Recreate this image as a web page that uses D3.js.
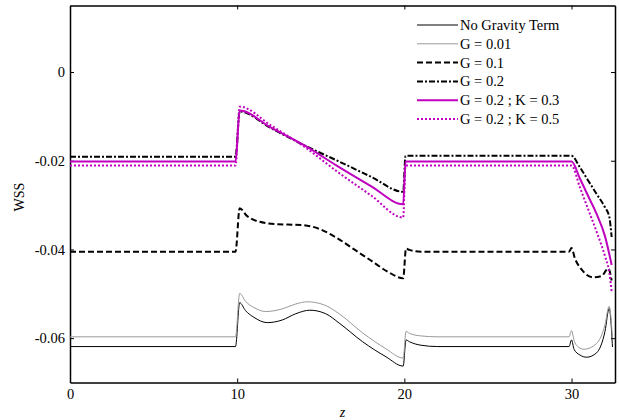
<!DOCTYPE html>
<html lang="en">
<head>
<meta charset="utf-8">
<title>WSS</title>
<script src="https://d3js.org/d3.v7.min.js"></script>
<style>
body { margin: 0; background: #fff; }
svg text { font-family: "Liberation Serif", serif; fill: #000; }
.axis path, .axis line { stroke: #000; }
</style>
</head>
<body>
<script>
// legend names
var names = ["No Gravity Term", "G = 0.01", "G = 0.1", "G = 0.2", "G = 0.2 ; K = 0.3", "G = 0.2 ; K = 0.5"];

// No gravity term
var z0 = [0, 9.9, 10.15, 10.5, 11, 11.8, 12.7, 13.5, 14.35, 15.3, 16.1, 17.5, 18.9, 19.93, 20.1, 20.3, 21, 22, 29.85, 30.0, 30.15, 30.5, 30.9, 31.5, 32, 32.25, 32.45];
var v0 = [-0.0619, -0.0619, -0.0520, -0.0538, -0.0553, -0.0565, -0.0559, -0.0545, -0.0537, -0.0545, -0.0566, -0.0608, -0.0642, -0.0663, -0.0604, -0.0608, -0.0616, -0.0619, -0.0619, -0.0604, -0.0625, -0.0638, -0.0643, -0.0633, -0.0585, -0.0533, -0.0620];

// G = 0.01
var z1 = [0, 9.9, 10.15, 10.5, 11, 11.7, 12.7, 13.5, 14.2, 15.2, 16.1, 17.5, 18.9, 19.93, 20.1, 20.3, 21, 22, 29.85, 30.0, 30.15, 30.4, 30.75, 31.5, 32, 32.25, 32.45];
var v1 = [-0.0597, -0.0597, -0.0499, -0.0517, -0.0531, -0.0540, -0.0534, -0.0523, -0.0518, -0.0525, -0.0545, -0.0588, -0.0624, -0.0645, -0.0585, -0.0589, -0.0595, -0.0597, -0.0597, -0.0583, -0.0605, -0.0620, -0.0625, -0.0612, -0.0570, -0.0528, -0.0600];

// G = 0.1
var z2 = [0, 9.9, 10.15, 10.6, 11.8, 13, 13.9, 15, 16, 17, 18, 19, 19.93, 20.1, 20.3, 21, 29.85, 30.0, 30.2, 30.6, 31.3, 31.8, 32.2, 32.4];
var v2 = [-0.0405, -0.0405, -0.0307, -0.0325, -0.0341, -0.0344, -0.0345, -0.0355, -0.0375, -0.0400, -0.0425, -0.0450, -0.0465, -0.0398, -0.0401, -0.0405, -0.0405, -0.0397, -0.0420, -0.0445, -0.0463, -0.0460, -0.0443, -0.0470];

// G = 0.2
var z3 = [0, 9.9, 10.15, 12, 14, 16, 18, 19.93, 20.07, 20.2, 30.0, 30.5, 31, 31.5, 32, 32.25, 32.4];
var v3 = [-0.0191, -0.0191, -0.0089, -0.0126, -0.0165, -0.0200, -0.0236, -0.0270, -0.0189, -0.0189, -0.0189, -0.0215, -0.0245, -0.0275, -0.0305, -0.0325, -0.0372];

// G = 0.2 ; K = 0.3
var z4 = [0, 9.9, 10.15, 12, 14, 16, 18, 19.93, 20.07, 20.2, 30.0, 30.5, 31, 31.5, 32, 32.25, 32.4];
var v4 = [-0.0202, -0.0202, -0.0087, -0.0125, -0.0165, -0.0212, -0.0257, -0.0298, -0.0202, -0.0202, -0.0202, -0.0240, -0.0280, -0.0320, -0.0370, -0.0409, -0.0435];

// G = 0.2 ; K = 0.5
var z5 = [0, 9.9, 10.15, 12, 14, 16, 18, 19.93, 20.07, 20.2, 30.0, 30.5, 31, 31.5, 32, 32.25, 32.4];
var v5 = [-0.0211, -0.0211, -0.0078, -0.0120, -0.0168, -0.0225, -0.0278, -0.0328, -0.0211, -0.0211, -0.0211, -0.0260, -0.0310, -0.0360, -0.0415, -0.0450, -0.0495];

var xTicks = [0, 10, 20, 30];
var yTicks = [-0.06, -0.04, -0.02, 0];

var zs = [z0, z1, z2, z3, z4, z5];
var vs = [v0, v1, v2, v3, v4, v5];
var styles = [
  {color: "#000", width: 1, dash: null},
  {color: "#999", width: 1, dash: null},
  {color: "#000", width: 2, dash: "6,3"},
  {color: "#000", width: 2, dash: "6,2,2,2"},
  {color: "#bf00bf", width: 2, dash: null},
  {color: "#bf00bf", width: 2, dash: "2,2"}
];

var W = 619, H = 420;
var margin = {left: 70, right: 4, top: 5.5, bottom: 37.5};
var w = W - margin.left - margin.right,
    h = H - margin.top - margin.bottom;

var svg = d3.select("body").append("svg")
  .attr("width", W)
  .attr("height", H);

var g = svg.append("g")
  .attr("transform", "translate(" + margin.left + "," + margin.top + ")");

var x = d3.scaleLinear().domain([0, 32.6]).range([0, w]);
var y = d3.scaleLinear().domain([-0.07, 0.015]).range([h, 0]);

var fmt = function(d) { return d === 0 ? "0" : d.toFixed(2); };

g.append("g").attr("class", "axis")
  .attr("transform", "translate(0," + h + ")")
  .call(d3.axisBottom(x).tickValues(xTicks).tickSizeInner(-4).tickSizeOuter(0).tickPadding(6));
g.append("g").attr("class", "axis")
  .call(d3.axisTop(x).tickValues(xTicks).tickSizeInner(-4).tickSizeOuter(0).tickFormat(""));
g.append("g").attr("class", "axis")
  .call(d3.axisLeft(y).tickValues(yTicks).tickSizeInner(-4).tickSizeOuter(0).tickPadding(5).tickFormat(fmt));
g.append("g").attr("class", "axis")
  .attr("transform", "translate(" + w + ",0)")
  .call(d3.axisRight(y).tickValues(yTicks).tickSizeInner(-4).tickSizeOuter(0).tickFormat(""));

g.selectAll(".axis").attr("font-family", "Liberation Serif").attr("font-size", 14.5);
g.selectAll(".axis path").attr("stroke-width", 1.5);

var line = d3.line()
  .x(function(d) { return x(d[0]); })
  .y(function(d) { return y(d[1]); })
  .curve(d3.curveMonotoneX);

var series = zs.map(function(zz, i) {
  return zz.map(function(zv, j) { return [zv, vs[i][j]]; });
});

g.selectAll(".series")
  .data(series)
  .enter().append("path")
  .attr("class", "series")
  .attr("fill", "none")
  .attr("d", line)
  .attr("stroke", function(d, i) { return styles[i].color; })
  .attr("stroke-width", function(d, i) { return styles[i].width; })
  .attr("stroke-dasharray", function(d, i) { return styles[i].dash; });

// legend
var legend = svg.append("g").selectAll("g")
  .data(names)
  .enter().append("g")
  .attr("transform", function(d, i) { return "translate(417," + (25 + i * 18.8) + ")"; });

legend.append("line")
  .attr("x1", 0).attr("x2", 41)
  .attr("stroke", function(d, i) { return styles[i].color; })
  .attr("stroke-width", function(d, i) { return styles[i].width; })
  .attr("stroke-dasharray", function(d, i) { return styles[i].dash; });

legend.append("text")
  .attr("x", 43)
  .attr("dy", "0.35em")
  .attr("font-family", "Liberation Serif")
  .attr("font-size", 14.5)
  .text(function(d) { return d; });

svg.append("text")
  .attr("x", margin.left + x(16.3))
  .attr("y", 417)
  .attr("text-anchor", "middle")
  .attr("font-family", "Liberation Serif")
  .attr("font-size", 14)
  .attr("font-style", "italic")
  .text("z");

svg.append("text")
  .attr("transform", "translate(24,197) rotate(-90)")
  .attr("text-anchor", "middle")
  .attr("font-family", "Liberation Serif")
  .attr("font-size", 14)
  .text("WSS");
</script>
</body>
</html>
